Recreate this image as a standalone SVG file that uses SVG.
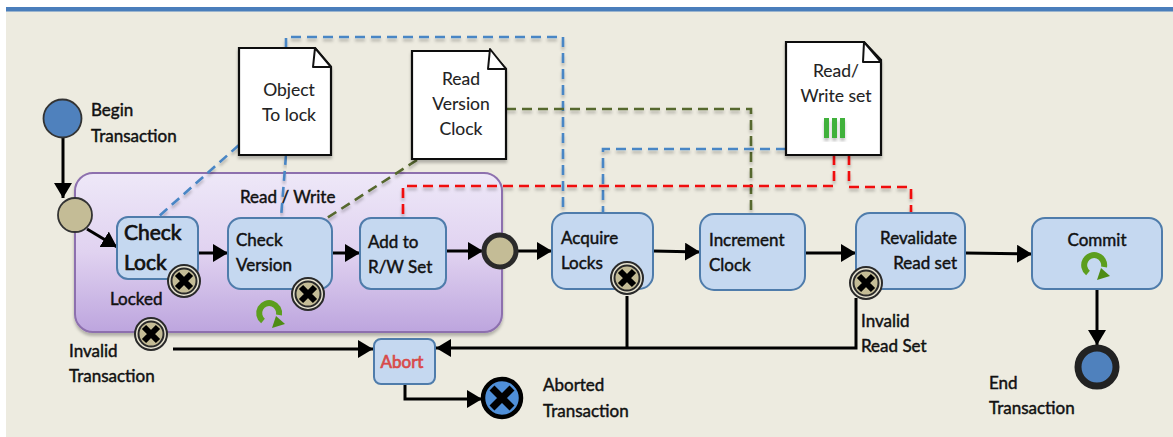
<svg xmlns="http://www.w3.org/2000/svg" width="1173" height="437" viewBox="0 0 1173 437">
<style>
text{font-family:Lato,"Open Sans","Liberation Sans",sans-serif;font-size:17px;fill:#111;stroke:#111;stroke-width:.45px}
.n{font-size:17.5px;stroke-width:.1px;fill:#222;stroke:#222}
.big{font-size:21px;stroke-width:.7px}
.ab{fill:#d84a4a;stroke:#d84a4a;stroke-width:.7px}
.box{fill:#c5d8f0;stroke:#4f7cab;stroke-width:2}
.note{fill:#fff;stroke:#111;stroke-width:2.2;filter:url(#sh)}
.fold{fill:#fff;stroke:#111;stroke-width:2;stroke-linejoin:round}
.s{fill:none;stroke:#000;stroke-width:3}
.d{fill:none;stroke-width:2.6;stroke-dasharray:10 6;filter:url(#sh)}
.blue{stroke:#4a86c5}.green{stroke:#56682f}.red{stroke:#f01010}
.xo{fill:#e8e4d2;stroke:#2a2a2a;stroke-width:2}
.xi{fill:#c4bc96;stroke:#2a2a2a;stroke-width:2}
.xx{stroke:#000;stroke-width:6;fill:none}
</style>
<defs>
<linearGradient id="pu" x1="0" y1="0" x2="0" y2="1"><stop offset="0" stop-color="#eee8f8"/><stop offset=".5" stop-color="#e0d2f0"/><stop offset="1" stop-color="#bda5de"/></linearGradient>
<filter id="sh" x="-20%" y="-20%" width="140%" height="140%"><feDropShadow dx="0" dy="3" stdDeviation="1.6" flood-color="#000" flood-opacity=".25"/></filter>
<marker id="a" markerUnits="userSpaceOnUse" markerWidth="16" markerHeight="18" refX="15" refY="9" orient="auto"><path d="M0 0L15 9L0 18Z" fill="#000"/></marker>
<g id="xm"><circle r="16" class="xo"/><circle r="12.500" class="xi"/><path d="M-7 -7L7 7M7 -7L-7 7" class="xx"/></g>
<g id="loop"><path d="M-8 8A10 10 0 1 1 8 2" fill="none" stroke="#5c9e1e" stroke-width="6"/><path d="M5 3L14 11L1 15Z" fill="#4e8c14"/></g>
</defs>
<rect x="0" y="0" width="1173" height="437" fill="#fff"/>
<rect x="6" y="11" width="1167" height="426" fill="#edebe0"/>
<rect x="6" y="7" width="1167" height="4.500" fill="#4a7ebb"/>
<g id="group-read-write"><rect x="75" y="173" width="427" height="159" rx="18" fill="url(#pu)" stroke="#8d6fae" stroke-width="2" filter="url(#sh)"/><text x="240" y="203">Read / Write</text></g>
<g id="connectors">
<path class="d blue" d="M239 145L157 218"/>
<path class="d blue" d="M286 155L281 218"/>
<path class="d blue" d="M286 48V37H563V213"/>
<path class="d green" d="M506 109H751V214"/>
<path class="d green" d="M417 160L327 218"/>
<path class="d blue" d="M786 149H603V213"/>
<path class="d red" d="M834 155V186H403V218"/>
<path class="d red" d="M849 155V187H911V213"/>
<path class="s" d="M63 138V198" marker-end="url(#a)"/>
<path class="s" d="M87 229L117 247" marker-end="url(#a)"/>
<path class="s" d="M198 253H228" marker-end="url(#a)"/>
<path class="s" d="M332 253H360" marker-end="url(#a)"/>
<path class="s" d="M446 251H483" marker-end="url(#a)"/>
<path class="s" d="M517 251H552" marker-end="url(#a)"/>
<path class="s" d="M653 251L700 252" marker-end="url(#a)"/>
<path class="s" d="M805 253H856" marker-end="url(#a)"/>
<path class="s" d="M965 253L1032 254" marker-end="url(#a)"/>
<path class="s" d="M1097 289V345" marker-end="url(#a)"/>
<path class="s" d="M173 349H373" marker-end="url(#a)"/>
<path class="s" d="M856 298V348H436" marker-end="url(#a)"/>
<path class="s" d="M627 296V348"/>
<path class="s" d="M405 384V399H482" marker-end="url(#a)"/>
</g>
<g id="begin"><circle cx="62.500" cy="118.500" r="19" fill="#4f81bd" stroke="#333" stroke-width="1.800"/><text x="91" y="116">Begin</text><text x="91" y="142">Transaction</text></g>
<g id="gateway-start"><circle cx="75" cy="215" r="17" fill="#c4bc96" stroke="#333" stroke-width="1.800"/></g>
<g id="note-object"><path class="note" d="M239 48H315L331 67V155H239Z"/><path class="fold" d="M315 48L331 67H313Z"/><text class="n" x="289" y="96" text-anchor="middle">Object</text><text class="n" x="289" y="121" text-anchor="middle">To lock</text></g>
<g id="note-clock"><path class="note" d="M412 51H490L506 69V159H412Z"/><path class="fold" d="M490 49L506 69H488Z"/><text class="n" x="461" y="85" text-anchor="middle">Read</text><text class="n" x="461" y="110" text-anchor="middle">Version</text><text class="n" x="461" y="135" text-anchor="middle">Clock</text></g>
<g id="note-rwset"><path class="note" d="M786 42H864L881 60V155H786Z"/><path class="fold" d="M864 42L881 62H863Z"/><text class="n" x="836" y="77" text-anchor="middle">Read/</text><text class="n" x="836" y="102" text-anchor="middle">Write set</text><path d="M824 118h5v20h-5zM832 118h5v20h-5zM840 118h5v20h-5z" fill="#3fb13a" filter="url(#sh)"/></g>
<g id="check-lock"><rect class="box" x="117" y="217" width="81" height="62" rx="11"/><text class="big" x="124" y="240">Check</text><text class="big" x="124" y="270">Lock</text><use href="#xm" x="184" y="281"/></g>
<g id="check-version"><rect class="box" x="228" y="218" width="104" height="71" rx="13"/><text x="236" y="246">Check</text><text x="236" y="271">Version</text><use href="#xm" x="308" y="294"/><use href="#loop" x="271" y="313"/></g>
<g id="add-rw"><rect class="box" x="360" y="218" width="86" height="71" rx="11"/><text x="368" y="248">Add to</text><text x="368" y="273">R/W Set</text></g>
<g id="locked"><text x="110" y="305">Locked</text><use href="#xm" x="151" y="334"/><text x="69" y="357">Invalid</text><text x="69" y="382">Transaction</text></g>
<g id="gateway-join"><circle cx="500" cy="251" r="16" fill="#c4bc96" stroke="#2a2a2a" stroke-width="5"/></g>
<g id="acquire-locks"><rect class="box" x="552" y="213" width="101" height="76" rx="14"/><text x="561" y="244">Acquire</text><text x="561" y="269">Locks</text><use href="#xm" x="627" y="278"/></g>
<g id="increment-clock"><rect class="box" x="700" y="214" width="105" height="76" rx="14"/><text x="709" y="246">Increment</text><text x="709" y="271">Clock</text></g>
<g id="revalidate"><rect class="box" x="856" y="213" width="109" height="76" rx="14"/><text x="957" y="244" text-anchor="end">Revalidate</text><text x="957" y="269" text-anchor="end">Read set</text><use href="#xm" x="866" y="283"/><text x="861" y="327">Invalid</text><text x="861" y="352">Read Set</text></g>
<g id="commit"><rect class="box" x="1032" y="218" width="130" height="71" rx="13"/><text x="1097" y="246" text-anchor="middle">Commit</text><use href="#loop" x="1096" y="265"/></g>
<g id="abort"><rect class="box" x="374" y="339" width="61" height="45" rx="7"/><text class="ab" x="402" y="368" text-anchor="middle">Abort</text></g>
<g id="aborted"><circle cx="502" cy="398" r="19" fill="#4f8fd8" stroke="#000" stroke-width="4.500"/><path d="M492 388L512 408M512 388L492 408" stroke="#000" stroke-width="7" fill="none"/><text x="543" y="391">Aborted</text><text x="543" y="417">Transaction</text></g>
<g id="end"><circle cx="1097" cy="367" r="19" fill="#4f81bd" stroke="#222" stroke-width="7"/><text x="989" y="389">End</text><text x="989" y="414">Transaction</text></g>
</svg>
